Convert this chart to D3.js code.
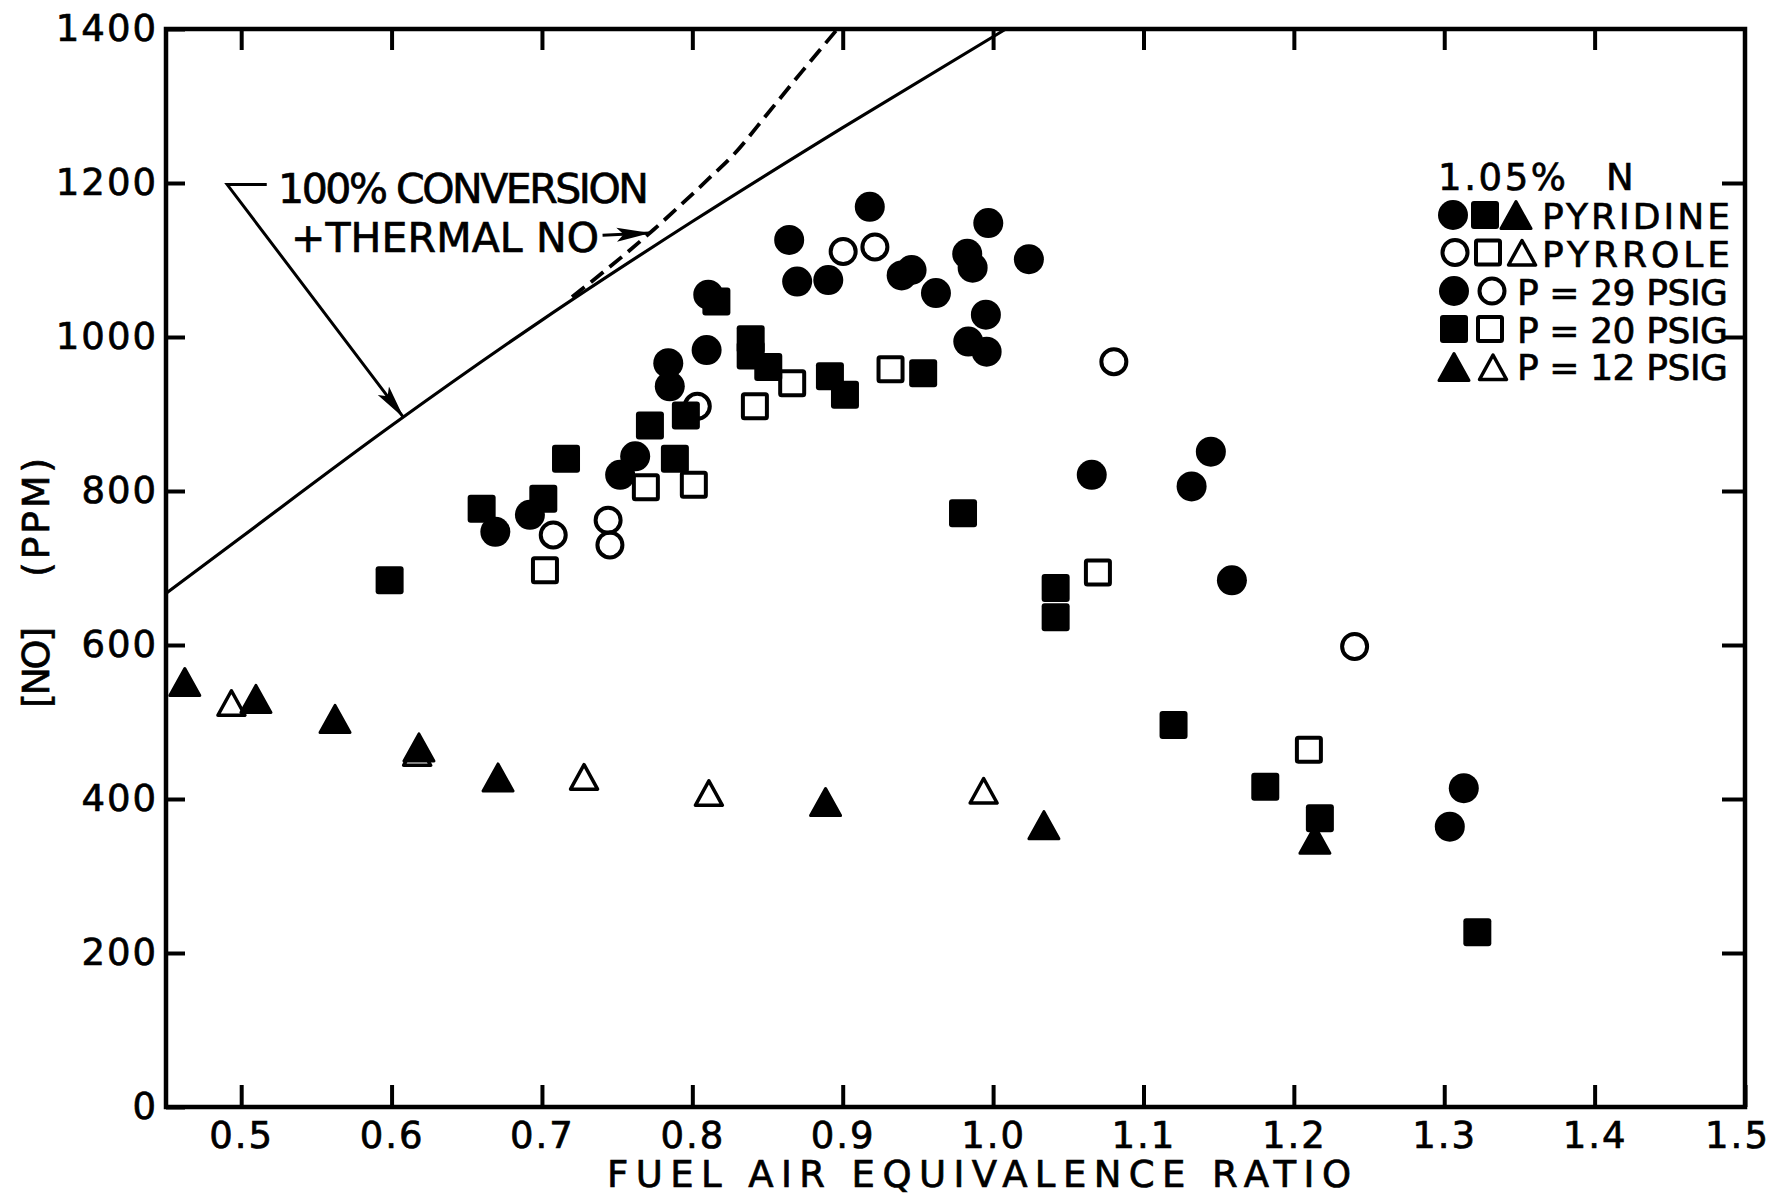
<!DOCTYPE html>
<html lang="en">
<head>
<meta charset="UTF-8">
<title>NO vs fuel air equivalence ratio</title>
<script src="https://d3js.org/d3.v7.min.js"></script>
<style>
  body { margin: 0; background: white; }
  svg { display: block; font-family: "DejaVu Sans", sans-serif; }
  text { fill: black; stroke: black; stroke-width: 0.7px; }
</style>
</head>
<body>
<div id="chart"></div>
<script>
  // [equivalence ratio, NO ppm]
  var pyridine29 = [[0.669,747],[0.692,769],[0.752,821],[0.762,845],[0.785,936],[0.784,966],
    [0.8095,983],[0.8106,1055],[0.8644,1126],[0.8697,1072],[0.8904,1074],[0.918,1169],
    [0.9392,1080],[0.9458,1087],[0.962,1057],[0.9828,1108],[0.9864,1090],[0.9968,1148],
    [0.9952,1029],[0.9835,994],[0.9957,981],[1.0238,1101],[1.0656,821],[1.132,806],
    [1.1448,851],[1.1588,684],[1.3037,364],[1.313,414]];
  var pyrrole29 = [[0.7075,743],[0.744,762],[0.7452,730],[0.8033,910],[0.9003,1111],
    [0.9214,1117],[1.0803,968],[1.2404,598]];
  var pyridine20 = [[0.5987,684],[0.6599,777],[0.7009,790],[0.716,842],[0.7718,885],
    [0.7884,842],[0.7957,898],[0.816,1046],[0.8388,997],[0.8388,976],[0.8505,961],
    [0.8915,949],[0.9015,925],[0.9535,953],[0.980,771],[1.0416,674],[1.0416,636],
    [1.12,496],[1.181,416],[1.2173,375],[1.322,227]];
  var pyrrole20 = [[0.702,697],[0.7691,805],[0.801,808],[0.8416,910],[0.8664,940],
    [0.9318,958],[1.0697,694],[1.21,464]];
  var pyridine12 = [[0.4625,552],[0.5098,530],[0.5624,504],[0.6182,467],[0.6708,428],
    [0.8886,396],[1.0338,366],[1.214,347]];
  var pyrrole12 = [[0.4935,525],[0.617,460],[0.728,429],[0.811,408],[0.9937,411]];

  // 100% conversion + thermal NO (solid), and the dashed branch
  var conversionX = [0.45, 0.5, 0.6, 0.7, 0.8, 0.9, 1.0085];
  var conversionY = [667, 740, 885, 1022, 1150, 1272, 1400];
  var thermalX = [0.72, 0.74, 0.774, 0.797, 0.81, 0.828, 0.85, 0.873, 0.8965];
  var thermalY = [1052, 1083, 1139, 1180, 1204, 1238, 1290, 1345, 1400];

  var xTicks = [0.5, 0.6, 0.7, 0.8, 0.9, 1.0, 1.1, 1.2, 1.3, 1.4, 1.5];
  var yTicks = [0, 200, 400, 600, 800, 1000, 1200, 1400];

  var W = 1771, H = 1198;
  var margin = { top: 29, right: 26, bottom: 91, left: 166 },
    width = W - margin.left - margin.right,
    height = H - margin.top - margin.bottom;

  var svg = d3.select("#chart").append("svg")
    .attr("width", W)
    .attr("height", H);

  var defs = svg.append("defs");
  defs.append("marker")
    .attr("id", "head")
    .attr("markerUnits", "userSpaceOnUse")
    .attr("markerWidth", 34).attr("markerHeight", 16)
    .attr("refX", 33).attr("refY", 8)
    .attr("orient", "auto")
    .append("path")
    .attr("d", "M0,1 L34,8 L0,15 L7,8 Z")
    .attr("fill", "black");

  var g = svg.append("g")
    .attr("transform", "translate(" + margin.left + "," + margin.top + ")");

  var x = d3.scaleLinear().domain([0.45, 1.5]).range([0, width]);
  var y = d3.scaleLinear().domain([0, 1400]).range([height, 0]);

  // axes: inward ticks on all four sides
  function styleAxis(sel) {
    sel.select(".domain").remove();
    sel.selectAll(".tick line").attr("stroke", "black").attr("stroke-width", 4);
    sel.selectAll(".tick text")
      .attr("font-size", 37)
      .attr("font-family", "DejaVu Sans, sans-serif")
      .style("letter-spacing", "2px")
      .attr("fill", "black");
  }

  var bottom = g.append("g")
    .attr("transform", "translate(0," + height + ")")
    .call(d3.axisBottom(x).tickValues(xTicks).tickSize(-22).tickPadding(15)
      .tickFormat(d3.format(".1f")))
    .call(styleAxis);
  bottom.selectAll(".tick text").filter(function (d) { return d === 1.5; }).attr("dx", -8);

  g.append("g")
    .call(d3.axisTop(x).tickValues(xTicks.slice(0, -1)).tickSize(-21).tickFormat(""))
    .call(styleAxis);

  g.append("g")
    .call(d3.axisLeft(y).tickValues(yTicks).tickSize(-19).tickPadding(8)
      .tickFormat(d3.format("d")))
    .call(styleAxis);

  g.append("g")
    .attr("transform", "translate(" + width + ",0)")
    .call(d3.axisRight(y).tickValues(yTicks.slice(1, -1)).tickSize(-23).tickFormat(""))
    .call(styleAxis);

  g.append("rect")
    .attr("width", width).attr("height", height)
    .attr("fill", "none").attr("stroke", "black").attr("stroke-width", 4.5);

  // curves
  var line = d3.line()
    .x(function (d) { return x(d[0]); })
    .y(function (d) { return y(d[1]); })
    .curve(d3.curveMonotoneX);

  g.append("path")
    .datum(d3.zip(conversionX, conversionY))
    .attr("d", line)
    .attr("fill", "none").attr("stroke", "black").attr("stroke-width", 3.2);

  g.append("path")
    .datum(d3.zip(thermalX, thermalY))
    .attr("d", line)
    .attr("fill", "none").attr("stroke", "black").attr("stroke-width", 3.8)
    .attr("stroke-dasharray", "16,8");

  // markers
  function drawMarker(sel, shape, filled) {
    if (shape === "circle") {
      sel.append("circle")
        .attr("r", filled ? 15 : 12.5)
        .attr("fill", filled ? "black" : "none")
        .attr("stroke", filled ? "none" : "black")
        .attr("stroke-width", 4);
    } else if (shape === "square") {
      var s = filled ? 28 : 24;
      sel.append("rect")
        .attr("x", -s / 2).attr("y", -s / 2)
        .attr("width", s).attr("height", s)
        .attr("rx", filled ? 3 : 1.5)
        .attr("fill", filled ? "black" : "none")
        .attr("stroke", filled ? "none" : "black")
        .attr("stroke-width", 4);
    } else {
      var p = filled ? "M0,-13.5 L15,13.5 L-15,13.5 Z" : "M0,-12 L13.5,12.5 L-13.5,12.5 Z";
      sel.append("path")
        .attr("d", p)
        .attr("fill", filled ? "black" : "none")
        .attr("stroke", "black")
        .attr("stroke-linejoin", "round")
        .attr("stroke-width", filled ? 3 : 3.5);
    }
  }

  var series = [
    { data: pyrrole29, shape: "circle", filled: false },
    { data: pyrrole20, shape: "square", filled: false },
    { data: pyrrole12, shape: "triangle", filled: false },
    { data: pyridine29, shape: "circle", filled: true },
    { data: pyridine20, shape: "square", filled: true },
    { data: pyridine12, shape: "triangle", filled: true }
  ];

  series.forEach(function (s) {
    g.append("g").selectAll("g")
      .data(s.data)
      .enter()
      .append("g")
      .attr("transform", function (d) { return "translate(" + x(d[0]) + "," + y(d[1]) + ")"; })
      .each(function () { drawMarker(d3.select(this), s.shape, s.filled); });
  });

  // annotation: leader lines with arrow heads
  var leader = [[0.4907, 1198], [0.517, 1198]];
  g.append("path")
    .attr("d", d3.line()([[x(leader[1][0]), y(leader[1][1])], [x(leader[0][0]), y(leader[0][1])],
      [x(0.6078), y(896)]]))
    .attr("fill", "none").attr("stroke", "black").attr("stroke-width", 3)
    .attr("marker-end", "url(#head)");

  g.append("path")
    .attr("d", d3.line()([[x(0.7403), y(1132)], [x(0.7716), y(1135)]]))
    .attr("fill", "none").attr("stroke", "black").attr("stroke-width", 3)
    .attr("marker-end", "url(#head)");

  // texts
  function label(txt, px, py, size, len) {
    var t = svg.append("text")
      .attr("x", px).attr("y", py)
      .attr("font-size", size)
      .text(txt);
    if (len) t.attr("textLength", len).attr("lengthAdjust", "spacing");
    return t;
  }

  label("100% CONVERSION", 278, 203, 41, 371);
  label("+THERMAL NO", 291, 252, 41, 308);

  label("FUEL AIR EQUIVALENCE RATIO", 607, 1187, 37, 744);

  svg.append("text")
    .attr("transform", "translate(49,577) rotate(-90)")
    .attr("font-size", 38)
    .attr("textLength", 119)
    .text("(PPM)");
  svg.append("text")
    .attr("transform", "translate(49,708) rotate(-90)")
    .attr("font-size", 38)
    .attr("textLength", 81)
    .text("[NO]");

  // legend
  label("1.05%", 1438, 190, 37, 128);
  label("N", 1606, 190, 37);
  label("PYRIDINE", 1542, 229, 36, 188);
  label("PYRROLE", 1542, 267, 36, 188);
  label("P = 29 PSIG", 1517, 305, 36, 211);
  label("P = 20 PSIG", 1517, 343, 36, 211);
  label("P = 12 PSIG", 1517, 380, 36, 211);

  var legendRows = [
    { cy: 215, items: [[1453, "circle", true], [1485, "square", true], [1516, "triangle", true]] },
    { cy: 252.5, items: [[1455, "circle", false], [1488, "square", false], [1522, "triangle", false]] },
    { cy: 291, items: [[1454, "circle", true], [1492, "circle", false]] },
    { cy: 329, items: [[1454, "square", true], [1490, "square", false]] },
    { cy: 367, items: [[1454, "triangle", true], [1493, "triangle", false]] }
  ];
  legendRows.forEach(function (r) {
    r.items.forEach(function (it) {
      drawMarker(svg.append("g").attr("transform", "translate(" + it[0] + "," + r.cy + ")"), it[1], it[2]);
    });
  });
</script>
</body>
</html>
